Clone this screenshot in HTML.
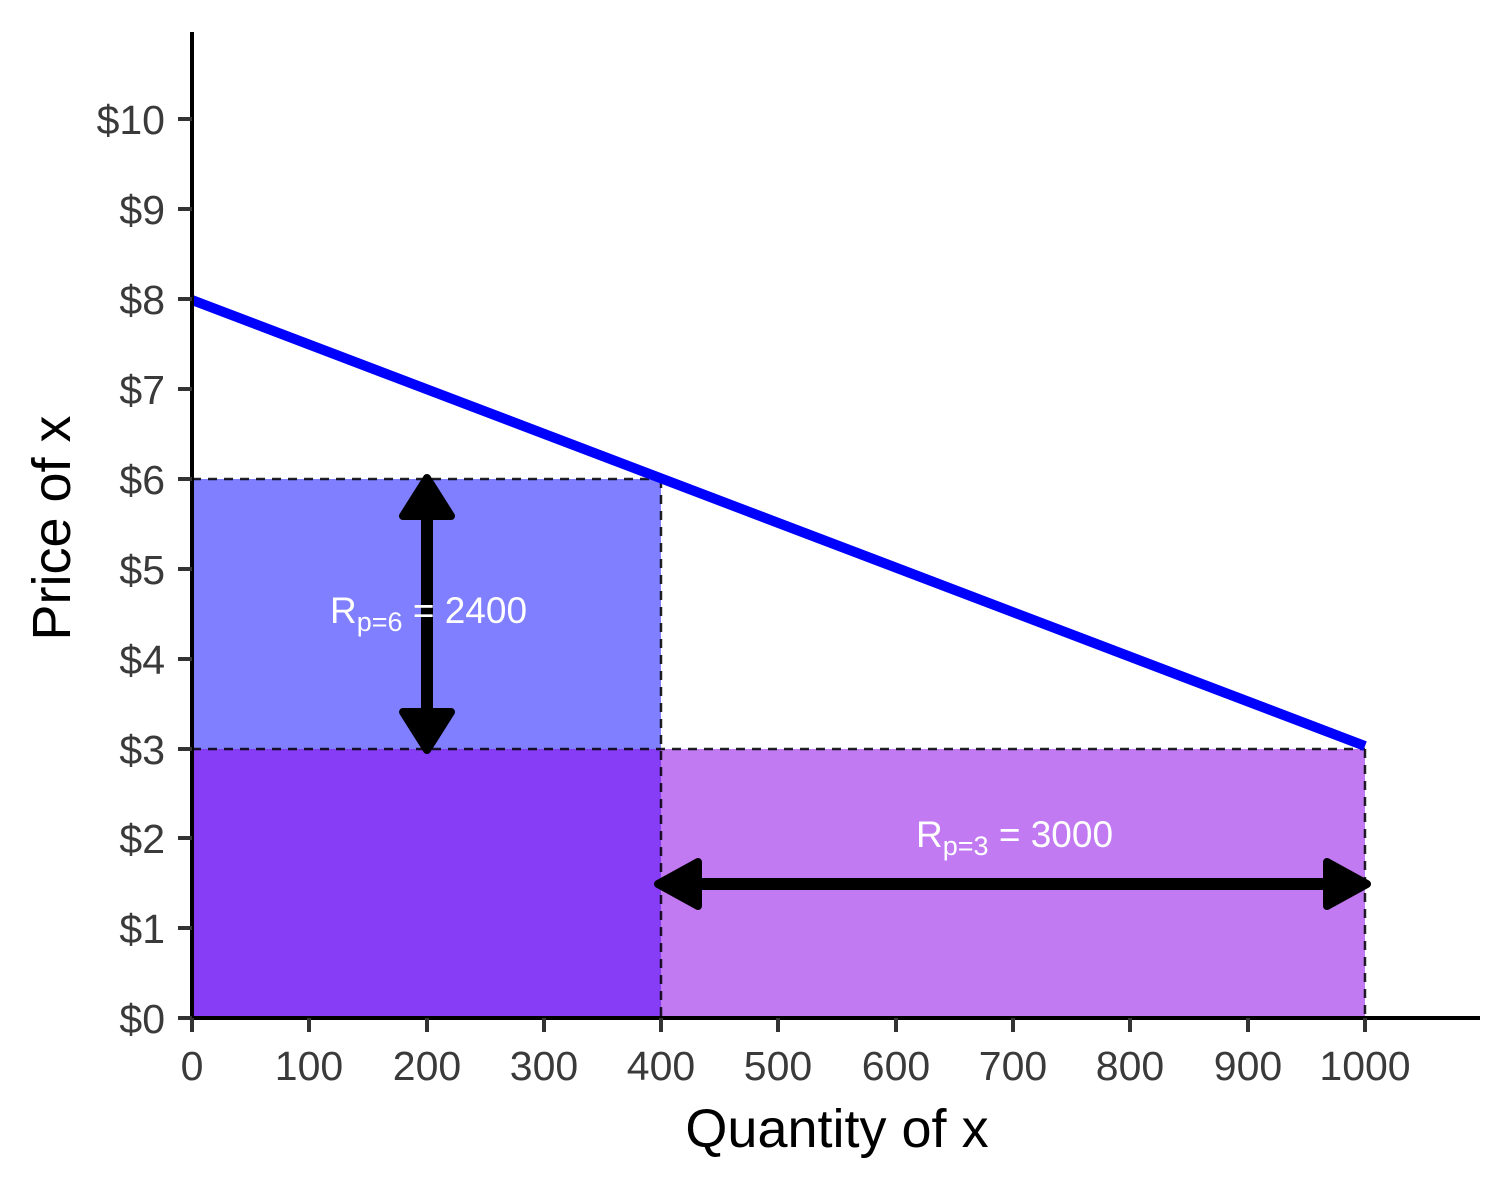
<!DOCTYPE html>
<html><head><meta charset="utf-8"><style>
html,body{margin:0;padding:0;background:#fff}
svg{display:block}
text{font-family:"Liberation Sans Narrow","Liberation Sans",sans-serif}
</style></head><body>
<svg width="1512" height="1188" viewBox="0 0 1512 1188" xmlns="http://www.w3.org/2000/svg">
<rect x="192" y="479" width="469" height="270" fill="#7f7fff"/>
<rect x="192" y="749" width="469" height="269" fill="#873cf5"/>
<rect x="661" y="749" width="704" height="269" fill="#c27af2"/>
<g stroke="#000" stroke-width="2.5" stroke-dasharray="9,7" fill="none" opacity="0.85">
<line x1="192" y1="479" x2="661" y2="479"/>
<line x1="661" y1="479" x2="661" y2="1018"/>
<line x1="192" y1="749" x2="1365" y2="749"/>
<line x1="1365" y1="749" x2="1365" y2="1018"/>
</g>
<line x1="192" y1="300" x2="1365" y2="746" stroke="#0000ff" stroke-width="10"/>
<line x1="427" y1="510" x2="427" y2="720" stroke="#000" stroke-width="12"/>
<polygon points="427,478 403,516 451,516" fill="#000" stroke="#000" stroke-width="8" stroke-linejoin="round"/>
<polygon points="427,750 403,712 451,712" fill="#000" stroke="#000" stroke-width="8" stroke-linejoin="round"/>
<line x1="690" y1="884" x2="1335" y2="884" stroke="#000" stroke-width="12"/>
<polygon points="658,884 698,862 698,906" fill="#000" stroke="#000" stroke-width="8" stroke-linejoin="round"/>
<polygon points="1367,884 1327,862 1327,906" fill="#000" stroke="#000" stroke-width="8" stroke-linejoin="round"/>
<text x="330" y="623" fill="#fff" font-size="37">R<tspan font-size="27" dy="8">p=6</tspan><tspan dy="-8"> = 2400</tspan></text>
<text x="916" y="847" fill="#fff" font-size="37">R<tspan font-size="27" dy="8">p=3</tspan><tspan dy="-8"> = 3000</tspan></text>
<line x1="192" y1="32" x2="192" y2="1020" stroke="#000" stroke-width="4"/>
<line x1="190" y1="1018" x2="1480" y2="1018" stroke="#000" stroke-width="4"/>
<g stroke="#333" stroke-width="4">
<line x1="178" y1="1018" x2="192" y2="1018"/><line x1="178" y1="928" x2="192" y2="928"/>
<line x1="178" y1="838" x2="192" y2="838"/><line x1="178" y1="749" x2="192" y2="749"/>
<line x1="178" y1="659" x2="192" y2="659"/><line x1="178" y1="569" x2="192" y2="569"/>
<line x1="178" y1="479" x2="192" y2="479"/><line x1="178" y1="389" x2="192" y2="389"/>
<line x1="178" y1="299" x2="192" y2="299"/><line x1="178" y1="209" x2="192" y2="209"/>
<line x1="178" y1="119" x2="192" y2="119"/>
<line x1="192" y1="1018" x2="192" y2="1032"/><line x1="309" y1="1018" x2="309" y2="1032"/>
<line x1="427" y1="1018" x2="427" y2="1032"/><line x1="544" y1="1018" x2="544" y2="1032"/>
<line x1="661" y1="1018" x2="661" y2="1032"/><line x1="778" y1="1018" x2="778" y2="1032"/>
<line x1="896" y1="1018" x2="896" y2="1032"/><line x1="1013" y1="1018" x2="1013" y2="1032"/>
<line x1="1130" y1="1018" x2="1130" y2="1032"/><line x1="1248" y1="1018" x2="1248" y2="1032"/>
<line x1="1365" y1="1018" x2="1365" y2="1032"/>
</g>
<g fill="#3a3a3a" font-size="41" text-anchor="end">
<text x="165" y="1033">$0</text><text x="165" y="943">$1</text><text x="165" y="853">$2</text>
<text x="165" y="764">$3</text><text x="165" y="674">$4</text><text x="165" y="584">$5</text>
<text x="165" y="494">$6</text><text x="165" y="404">$7</text><text x="165" y="314">$8</text>
<text x="165" y="224">$9</text><text x="165" y="134">$10</text>
</g>
<g fill="#3a3a3a" font-size="41" text-anchor="middle">
<text x="192" y="1080">0</text><text x="309" y="1080">100</text><text x="427" y="1080">200</text>
<text x="544" y="1080">300</text><text x="661" y="1080">400</text><text x="778" y="1080">500</text>
<text x="896" y="1080">600</text><text x="1013" y="1080">700</text><text x="1130" y="1080">800</text>
<text x="1248" y="1080">900</text><text x="1365" y="1080">1000</text>
</g>
<text x="837" y="1147" font-size="54" text-anchor="middle" fill="#000">Quantity of x</text>
<text transform="translate(70,528) rotate(-90)" font-size="54" text-anchor="middle" fill="#000">Price of x</text>
</svg>
</body></html>
